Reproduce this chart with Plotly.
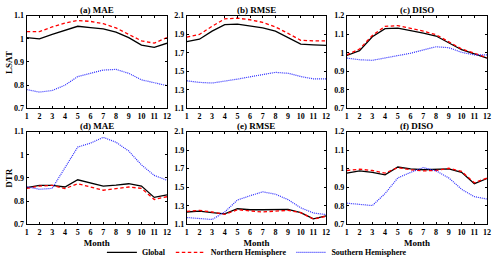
import plotly.graph_objects as go

months = list(range(1, 13))

# LSAT
lsat_mae_global = [1.005, 1.000, 1.019, 1.037, 1.054, 1.048, 1.043, 1.029, 1.005, 0.973, 0.963, 0.981]
lsat_mae_nh     = [1.031, 1.031, 1.051, 1.068, 1.079, 1.075, 1.065, 1.047, 1.019, 0.991, 0.981, 1.005]
lsat_mae_sh     = [0.781, 0.770, 0.777, 0.800, 0.837, 0.851, 0.865, 0.868, 0.851, 0.823, 0.809, 0.798]

lsat_rmse_global = [1.820, 1.845, 1.932, 2.002, 2.009, 1.990, 1.967, 1.932, 1.862, 1.792, 1.785, 1.780]
lsat_rmse_nh     = [1.869, 1.897, 1.985, 2.065, 2.072, 2.055, 2.027, 1.978, 1.908, 1.834, 1.827, 1.827]
lsat_rmse_sh     = [1.397, 1.380, 1.373, 1.390, 1.415, 1.440, 1.467, 1.488, 1.478, 1.443, 1.418, 1.418]

lsat_diso_global = [0.985, 1.011, 1.086, 1.130, 1.132, 1.120, 1.106, 1.090, 1.055, 1.016, 0.994, 0.971]
lsat_diso_nh     = [0.988, 1.020, 1.093, 1.142, 1.146, 1.132, 1.116, 1.097, 1.058, 1.020, 0.997, 0.973]
lsat_diso_sh     = [0.971, 0.962, 0.959, 0.971, 0.985, 0.997, 1.015, 1.032, 1.027, 1.002, 0.988, 0.988]

# DTR
dtr_mae_global = [0.858, 0.868, 0.868, 0.861, 0.892, 0.879, 0.865, 0.869, 0.875, 0.865, 0.816, 0.827]
dtr_mae_nh     = [0.855, 0.865, 0.868, 0.854, 0.875, 0.861, 0.847, 0.854, 0.861, 0.855, 0.807, 0.819]
dtr_mae_sh     = [0.862, 0.851, 0.855, 0.942, 1.033, 1.050, 1.075, 1.054, 1.016, 0.956, 0.911, 0.890]

dtr_rmse_global = [1.233, 1.243, 1.226, 1.212, 1.268, 1.257, 1.257, 1.261, 1.261, 1.226, 1.159, 1.191]
dtr_rmse_nh     = [1.240, 1.250, 1.233, 1.208, 1.257, 1.243, 1.233, 1.243, 1.250, 1.226, 1.156, 1.187]
dtr_rmse_sh     = [1.173, 1.163, 1.152, 1.233, 1.362, 1.408, 1.450, 1.425, 1.366, 1.278, 1.222, 1.205]

dtr_diso_global = [0.976, 0.988, 0.980, 0.967, 1.009, 0.999, 0.994, 0.997, 0.999, 0.980, 0.919, 0.947]
dtr_diso_nh     = [0.990, 0.997, 0.990, 0.976, 1.006, 0.994, 0.988, 0.990, 1.002, 0.985, 0.924, 0.950]
dtr_diso_sh     = [0.814, 0.807, 0.801, 0.866, 0.950, 0.980, 1.006, 0.988, 0.950, 0.889, 0.849, 0.836]

panel_titles = ["(a) MAE", "(b) RMSE", "(c) DISO", "(d) MAE", "(e) RMSE", "(f) DISO"]
series_names = ["Global", "Northern Hemisphere", "Southern Hemisphere"]

panels = [
    (lsat_mae_global, lsat_mae_nh, lsat_mae_sh),
    (lsat_rmse_global, lsat_rmse_nh, lsat_rmse_sh),
    (lsat_diso_global, lsat_diso_nh, lsat_diso_sh),
    (dtr_mae_global, dtr_mae_nh, dtr_mae_sh),
    (dtr_rmse_global, dtr_rmse_nh, dtr_rmse_sh),
    (dtr_diso_global, dtr_diso_nh, dtr_diso_sh),
]

W, H = 500, 267
xdoms_px = [(25, 167), (187, 328), (349, 491)]
ydoms_px = [(12, 108), (132, 228)]
yranges = [(0.7, 1.1), (1.1, 2.1), (0.7, 1.2)]
ydticks = [0.1, 0.2, 0.1]

styles = [
    dict(color="black", width=1.3, dash="solid"),
    dict(color="#ff0000", width=1.3, dash="3.5px,2.5px"),
    dict(color="#2b2bff", width=1.2, dash="1px,1px"),
]

FONT = "Liberation Serif"
fig = go.Figure()
annotations = []
layout = {}

for i, data in enumerate(panels):
    r, c = divmod(i, 3)
    n = i + 1
    xa = "x" if n == 1 else f"x{n}"
    ya = "y" if n == 1 else f"y{n}"
    for k, vals in enumerate(data):
        fig.add_trace(go.Scatter(
            x=months, y=vals, mode="lines", name=series_names[k],
            line=styles[k], xaxis=xa, yaxis=ya, showlegend=(i == 0)))
    x0, x1 = xdoms_px[c]
    y0, y1 = ydoms_px[r]
    lo, hi = yranges[c]
    layout[f"xaxis{'' if n == 1 else n}"] = dict(
        domain=[x0 / W, x1 / W], range=[1, 12], anchor=ya,
        tickmode="array", tickvals=months, ticktext=[str(m) for m in months],
        ticks="inside", ticklen=2, tickcolor="black", mirror="ticks",
        ticklabeloverflow="allow",
        showline=True, linecolor="black", linewidth=1, showgrid=False, zeroline=False,
        tickfont=dict(family=FONT, size=8, color="black", weight="bold"),
        title=dict(text="Month", font=dict(family=FONT, size=9, color="black", weight="bold"),
                   standoff=3) if r == 1 else None,
    )
    layout[f"yaxis{'' if n == 1 else n}"] = dict(
        domain=[1 - y1 / H, 1 - y0 / H], range=[lo, hi], anchor=xa,
        tick0=lo, dtick=ydticks[c],
        ticks="inside", ticklen=2, tickcolor="black", mirror="ticks",
        showline=True, linecolor="black", linewidth=1, showgrid=False, zeroline=False,
        tickfont=dict(family=FONT, size=8, color="black", weight="bold"),
    )
    annotations.append(dict(
        text=panel_titles[i], x=(x0 + x1) / 2 / W, y=1 - (y0 - 6) / H,
        xref="paper", yref="paper", showarrow=False, xanchor="center", yanchor="middle",
        font=dict(family=FONT, size=9, color="black", weight="bold")))

for txt, yc in [("LSAT", 60), ("DTR", 180)]:
    annotations.append(dict(
        text=txt, x=7 / W, y=1 - yc / H, xref="paper", yref="paper", showarrow=False,
        textangle=-90, xanchor="center", yanchor="middle",
        font=dict(family=FONT, size=9, color="black", weight="bold")))

fig.update_layout(
    width=W, height=H, margin=dict(l=0, r=0, t=0, b=0),
    paper_bgcolor="white", plot_bgcolor="white",
    annotations=annotations,
    legend=dict(orientation="h", x=258 / W, xanchor="center", y=1 - 257 / H, yanchor="middle",
                font=dict(family=FONT, size=8, color="black", weight="bold"),
                itemwidth=30, tracegroupgap=0, bgcolor="rgba(0,0,0,0)"),
    **layout,
)

fig.write_html("out.html", config={"displayModeBar": False},
               post_script="document.body.style.margin='0';document.body.style.padding='0';")
